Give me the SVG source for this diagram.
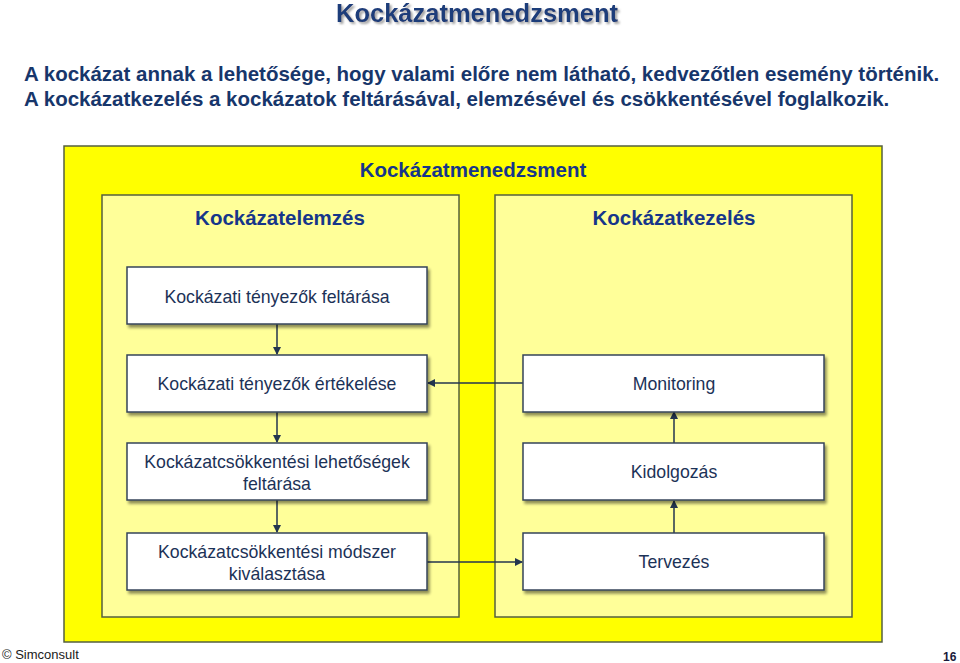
<svg xmlns="http://www.w3.org/2000/svg" width="960" height="663" viewBox="0 0 960 663">
<defs>
<style>
.t{font-family:"Liberation Sans",Arial,sans-serif;}
.title{font-size:25.5px;font-weight:bold;fill:#1f3d7a;filter:url(#tsh);}
.sub{font-size:20.5px;font-weight:bold;fill:#17366b;}
.hdr{font-size:20.5px;font-weight:bold;fill:#16368a;}
.bx{fill:#ffffff;stroke:#34455a;stroke-width:1.5;filter:url(#sh);}
.bt{font-size:17.7px;fill:#1c3257;text-anchor:middle;}
.con{stroke:#23354f;stroke-width:1.5;fill:none;}
</style>
<filter id="tsh" x="-5%" y="-20%" width="110%" height="150%">
<feDropShadow dx="2" dy="2" stdDeviation="0.8" flood-color="#9a9a9a" flood-opacity="0.9"/>
</filter>
<filter id="sh" x="-10%" y="-20%" width="130%" height="150%">
<feGaussianBlur in="SourceAlpha" stdDeviation="1.5"/>
<feOffset dx="2" dy="3" result="o"/>
<feComponentTransfer><feFuncA type="linear" slope="0.45"/></feComponentTransfer>
<feMerge><feMergeNode/><feMergeNode in="SourceGraphic"/></feMerge>
</filter>
<marker id="ah" markerWidth="8" markerHeight="8" refX="7" refY="4" orient="auto" markerUnits="userSpaceOnUse">
<path d="M0,0 L8,4 L0,8 Z" fill="#23354f"/>
</marker>
</defs>
<rect width="960" height="663" fill="#ffffff"/>
<g id="title">
<text class="t title" x="477" y="22" text-anchor="middle">Kockázatmenedzsment</text>
</g>
<g id="subtitle">
<text class="t sub" x="24" y="81">A kockázat annak a lehetősége, hogy valami előre nem látható, kedvezőtlen esemény történik.</text>
<text class="t sub" x="24" y="106">A kockázatkezelés a kockázatok feltárásával, elemzésével és csökkentésével foglalkozik.</text>
</g>
<g id="outer">
<rect x="64" y="146" width="818" height="496" fill="#ffff00" stroke="#55603f" stroke-width="1.5"/>
<text class="t hdr" x="473" y="177" text-anchor="middle">Kockázatmenedzsment</text>
</g>
<g id="elemzes">
<rect x="102" y="195" width="357" height="422" fill="#ffff99" stroke="#55603f" stroke-width="1.5"/>
<text class="t hdr" x="280" y="225" text-anchor="middle">Kockázatelemzés</text>
</g>
<g id="kezeles">
<rect x="495" y="195" width="357" height="422" fill="#ffff99" stroke="#55603f" stroke-width="1.5"/>
<text class="t hdr" x="674" y="225" text-anchor="middle">Kockázatkezelés</text>
</g>
<g id="connectors">
<line class="con" x1="277" y1="324" x2="277" y2="354" marker-end="url(#ah)"/>
<line class="con" x1="277" y1="412" x2="277" y2="442" marker-end="url(#ah)"/>
<line class="con" x1="277" y1="500" x2="277" y2="532" marker-end="url(#ah)"/>
<line class="con" x1="674" y1="533" x2="674" y2="501" marker-end="url(#ah)"/>
<line class="con" x1="674" y1="443" x2="674" y2="412" marker-end="url(#ah)"/>
<line class="con" x1="523" y1="383" x2="428" y2="383" marker-end="url(#ah)"/>
<line class="con" x1="427" y1="562" x2="522" y2="562" marker-end="url(#ah)"/>
</g>
<g id="n1">
<rect class="bx" x="127" y="267" width="300" height="57"/>
<text class="t bt" x="277" y="303">Kockázati tényezők feltárása</text>
</g>
<g id="n2">
<rect class="bx" x="127" y="355" width="300" height="57"/>
<text class="t bt" x="277" y="390">Kockázati tényezők értékelése</text>
</g>
<g id="n3">
<rect class="bx" x="127" y="443" width="300" height="57"/>
<text class="t bt" x="277" y="468">Kockázatcsökkentési lehetőségek</text>
<text class="t bt" x="277" y="490">feltárása</text>
</g>
<g id="n4">
<rect class="bx" x="127" y="533" width="300" height="57"/>
<text class="t bt" x="277" y="558">Kockázatcsökkentési módszer</text>
<text class="t bt" x="277" y="580">kiválasztása</text>
</g>
<g id="n5">
<rect class="bx" x="523" y="355" width="301" height="57"/>
<text class="t bt" x="674" y="390">Monitoring</text>
</g>
<g id="n6">
<rect class="bx" x="523" y="443" width="301" height="57"/>
<text class="t bt" x="674" y="478">Kidolgozás</text>
</g>
<g id="n7">
<rect class="bx" x="523" y="533" width="301" height="57"/>
<text class="t bt" x="674" y="568">Tervezés</text>
</g>
<g id="footer">
<text class="t" x="2" y="659" font-size="13" fill="#1a1a1a">© Simconsult</text>
<text class="t" x="943" y="661" font-size="12" font-weight="bold" fill="#1a1a3a">16</text>
</g>
</svg>
